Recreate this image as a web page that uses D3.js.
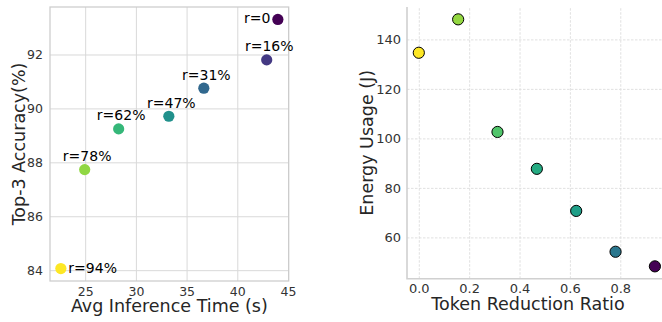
<!DOCTYPE html>
<html>
<head>
<meta charset="utf-8">
<script src="https://cdn.jsdelivr.net/npm/d3@7"></script>
<style>
  html, body { margin: 0; padding: 0; background: #fff; }
  svg { display: block; font-family: "DejaVu Sans", sans-serif; }
</style>
</head>
<body>
<svg id="chart" width="662" height="322"></svg>
<script>
// Token-reduction trade-offs: accuracy vs. latency, and energy vs. reduction ratio
const reductionRatio = [0, 0.15625, 0.3125, 0.46875, 0.625, 0.78125, 0.9375];
const ratioLabels    = ["r=0", "r=16%", "r=31%", "r=47%", "r=62%", "r=78%", "r=94%"];
const inferenceTime  = [44.0, 42.9, 36.7, 33.25, 28.3, 24.95, 22.6];
const top3Accuracy   = [93.3, 91.8, 90.75, 89.71, 89.24, 87.73, 84.06];
const energyUsage    = [134.6, 148.1, 102.6, 87.7, 70.7, 54.2, 48.3];

const timeTicks   = [25, 30, 35, 40, 45];
const accTicks    = [84, 86, 88, 90, 92];
const ratioTicks  = [0.0, 0.2, 0.4, 0.6, 0.8];
const energyTicks = [60, 80, 100, 120, 140];

const svg = d3.select("#chart");

// matplotlib-style 5% padding around the data extent
function padded(values) {
  const [lo, hi] = d3.extent(values);
  const m = (hi - lo) * 0.05;
  return [lo - m, hi + m];
}

const tickColor = "#333333";
const labelColor = "#262626";

/* ---------------- Left panel ---------------- */
const L = { left: 50, right: 288.7, top: 7, bottom: 281 };
const xL = d3.scaleLinear().domain(padded(inferenceTime)).range([L.left, L.right]);
const yL = d3.scaleLinear().domain(padded(top3Accuracy)).range([L.bottom, L.top]);
const left = svg.append("g");

// grid
left.append("g")
  .attr("transform", `translate(0,${L.bottom})`)
  .call(d3.axisBottom(xL).tickValues(timeTicks).tickSize(-(L.bottom - L.top)).tickFormat(d3.format("d")).tickPadding(6))
  .call(g => g.select(".domain").remove())
  .call(g => g.selectAll(".tick line").attr("stroke", "#d9d9d9").attr("stroke-width", 1))
  .call(g => g.selectAll(".tick text").attr("fill", tickColor).attr("font-size", 12.5).attr("font-family", "DejaVu Sans"));

left.append("g")
  .attr("transform", `translate(${L.left},0)`)
  .call(d3.axisLeft(yL).tickValues(accTicks).tickSize(-(L.right - L.left)).tickFormat(d3.format("d")).tickPadding(7))
  .call(g => g.select(".domain").remove())
  .call(g => g.selectAll(".tick line").attr("stroke", "#d9d9d9").attr("stroke-width", 1))
  .call(g => g.selectAll(".tick text").attr("fill", tickColor).attr("font-size", 12.5).attr("font-family", "DejaVu Sans"));

// frame
left.append("rect")
  .attr("x", L.left).attr("y", L.top)
  .attr("width", L.right - L.left).attr("height", L.bottom - L.top)
  .attr("fill", "none").attr("stroke", "#cccccc").attr("stroke-width", 1.25);

const colorL = i => d3.interpolateViridis(reductionRatio[i] / d3.max(reductionRatio));

left.selectAll("circle.pt")
  .data(d3.range(reductionRatio.length))
  .join("circle")
  .attr("class", "pt")
  .attr("cx", i => xL(inferenceTime[i]))
  .attr("cy", i => yL(top3Accuracy[i]))
  .attr("r", 5.6)
  .attr("fill", colorL);

// point annotations
const last = reductionRatio.length - 1;
left.selectAll("text.ann")
  .data(d3.range(reductionRatio.length))
  .join("text")
  .attr("class", "ann")
  .attr("font-size", 14)
  .attr("fill", "#000")
  .attr("x", i => i === 0 ? xL(inferenceTime[i]) - 7.5 : i === last ? xL(inferenceTime[i]) + 7.5 : xL(inferenceTime[i]) + 2.5)
  .attr("y", i => (i === 0 || i === last) ? yL(top3Accuracy[i]) + 4 : yL(top3Accuracy[i]) - 8.5)
  .attr("text-anchor", i => i === 0 ? "end" : i === last ? "start" : "middle")
  .text(i => ratioLabels[i]);

left.append("text")
  .attr("x", (L.left + L.right) / 2).attr("y", 312)
  .attr("text-anchor", "middle").attr("font-size", 17.5).attr("fill", labelColor)
  .text("Avg Inference Time (s)");

left.append("text")
  .attr("transform", `translate(24.5,${(L.top + L.bottom) / 2}) rotate(-90)`)
  .attr("text-anchor", "middle").attr("font-size", 17.5).attr("fill", labelColor)
  .text("Top-3 Accuracy(%)");

/* ---------------- Right panel ---------------- */
const R = { left: 407, right: 666.7, top: 7, bottom: 278.7 };
const xR = d3.scaleLinear().domain(padded(reductionRatio)).range([R.left, R.right]);
const yR = d3.scaleLinear().domain(padded(energyUsage)).range([R.bottom, R.top]);
const right = svg.append("g");

right.append("g")
  .attr("transform", `translate(0,${R.bottom})`)
  .call(d3.axisBottom(xR).tickValues(ratioTicks).tickSize(-(R.bottom - R.top)).tickFormat(d3.format(".1f")).tickPadding(5))
  .call(g => g.select(".domain").remove())
  .call(g => g.selectAll(".tick line").attr("stroke", "#dddddd").attr("stroke-width", 0.9).attr("stroke-dasharray", "2.5,1.5"))
  .call(g => g.selectAll(".tick text").attr("fill", tickColor).attr("font-size", 13).attr("font-family", "DejaVu Sans"));

right.append("g")
  .attr("transform", `translate(${R.left},0)`)
  .call(d3.axisLeft(yR).tickValues(energyTicks).tickSize(-(R.right - R.left)).tickFormat(d3.format("d")).tickPadding(6))
  .call(g => g.select(".domain").remove())
  .call(g => g.selectAll(".tick line").attr("stroke", "#dddddd").attr("stroke-width", 0.9).attr("stroke-dasharray", "2.5,1.5"))
  .call(g => g.selectAll(".tick text").attr("fill", tickColor).attr("font-size", 13).attr("font-family", "DejaVu Sans"));

// left and bottom spines only
right.append("path")
  .attr("d", `M${R.left},${R.top}V${R.bottom}H${R.right}`)
  .attr("fill", "none").attr("stroke", "#d0d0d0").attr("stroke-width", 1.6);

const [accMin, accMax] = d3.extent(top3Accuracy);
const colorR = i => d3.interpolateViridis((top3Accuracy[i] - accMin) / (accMax - accMin));

right.selectAll("circle.pt")
  .data(d3.range(reductionRatio.length))
  .join("circle")
  .attr("class", "pt")
  .attr("cx", i => xR(reductionRatio[i]))
  .attr("cy", i => yR(energyUsage[i]))
  .attr("r", 5.6)
  .attr("fill", colorR)
  .attr("stroke", "#000").attr("stroke-width", 1);

right.append("text")
  .attr("x", 528).attr("y", 309.5)
  .attr("text-anchor", "middle").attr("font-size", 17.5).attr("fill", labelColor)
  .text("Token Reduction Ratio");

right.append("text")
  .attr("transform", `translate(372.5,${(R.top + R.bottom) / 2}) rotate(-90)`)
  .attr("text-anchor", "middle").attr("font-size", 17.5).attr("fill", labelColor)
  .text("Energy Usage (J)");
</script>
</body>
</html>
